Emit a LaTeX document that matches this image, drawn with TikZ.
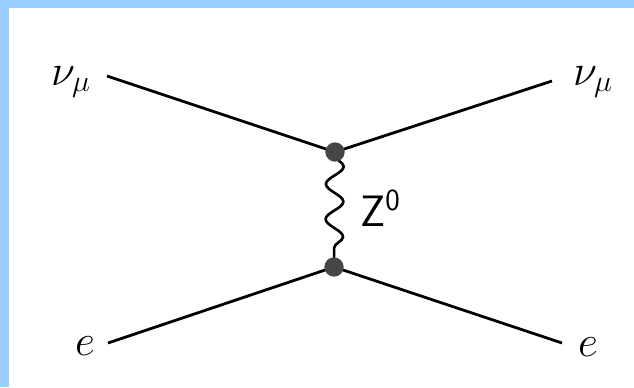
\documentclass[tikz,border=0pt]{standalone}
\usepackage{amsmath}
\usetikzlibrary{decorations.pathmorphing}

\definecolor{frameblue}{RGB}{153,204,255}
\definecolor{vertexgray}{RGB}{70,70,70}

\tikzset{
    fermion/.style={line width=1.6pt,black},
    boson/.style={line width=1.5pt,black,decorate,
        decoration={snake,amplitude=5,segment length=20,pre length=2,post length=2}},
    vertex/.style={circle,fill=vertexgray,inner sep=0pt,minimum size=11},
    particle/.style={font=\fontsize{25}{30}\selectfont}
}

\begin{document}
\begin{tikzpicture}[x=0.02cm,y=-0.02cm]
    % 背景
    \fill[frameblue] (0,0) rectangle (634,387);
    \fill[white] (9,8) rectangle (634,387);
    \useasboundingbox (0,0) rectangle (634,387);

    % 端点与顶点
    \coordinate (numin) at (107,76);
    \coordinate (numout) at (552,81);
    \coordinate (ein) at (108,343);
    \coordinate (eout) at (562,343);
    \coordinate (vtop) at (335,152);
    \coordinate (vbot) at (334,267);

    % 粒子标记
    \node[particle] (lnumin) at (71,82) {$\nu_\mu$};
    \node[particle] (lnumout) at (593,82) {$\nu_\mu$};
    \node[particle] (lein) at (85,346) {$e$};
    \node[particle] (leout) at (588,347) {$e$};

    % 费米子线
    \draw[fermion] (numin) -- (vtop) -- (numout);
    \draw[fermion] (ein) -- (vbot) -- (eout);

    % Z0 传播子
    \draw[boson] (vtop) -- (vbot);
    \node[particle,anchor=west] (lz) at (354,208) {\sffamily Z\textsuperscript{0}};

    % 顶点
    \foreach \v in {vtop,vbot}
        \node[vertex] at (\v) {};
\end{tikzpicture}
\end{document}
